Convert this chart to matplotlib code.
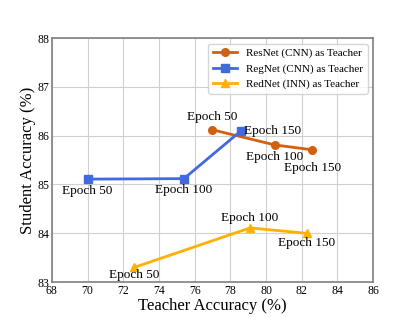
import matplotlib
matplotlib.use("Agg")
import matplotlib.pyplot as plt

plt.rcParams['font.family'] = ['Liberation Serif', 'DejaVu Serif']

# Teacher accuracy (x) vs student accuracy (y) at epochs 50 / 100 / 150
resnet_x = [77.0, 80.5, 82.6]
resnet_y = [86.12, 85.81, 85.71]
regnet_x = [70.0, 75.4, 78.6]
regnet_y = [85.11, 85.12, 86.1]
rednet_x = [72.6, 79.1, 82.3]
rednet_y = [83.3, 84.11, 84.0]
epoch_labels = ['Epoch 50', 'Epoch 100', 'Epoch 150']

c_res = '#D2600F'
c_reg = '#4169E1'
c_red = '#FFB000'

fig = plt.figure(figsize=(4.15, 3.17), dpi=100)
ax = fig.add_axes([0.125, 0.110, 0.774, 0.770])

ax.plot(resnet_x, resnet_y, color=c_res, marker='o', lw=2, ms=5.5, label='ResNet (CNN) as Teacher', zorder=3)
ax.plot(regnet_x, regnet_y, color=c_reg, marker='s', lw=2, ms=5.5, label='RegNet (CNN) as Teacher', zorder=3)
ax.plot(rednet_x, rednet_y, color=c_red, marker='^', lw=2, ms=5.5, label='RedNet (INN) as Teacher', zorder=3)

fs = 9.5
# ResNet labels
ax.annotate(epoch_labels[0], (resnet_x[0], resnet_y[0]), xytext=(0, 5), textcoords='offset points', ha='center', va='bottom', fontsize=fs)
ax.annotate(epoch_labels[1], (resnet_x[1], resnet_y[1]), xytext=(0, -4), textcoords='offset points', ha='center', va='top', fontsize=fs)
ax.annotate(epoch_labels[2], (resnet_x[2], resnet_y[2]), xytext=(0, -9), textcoords='offset points', ha='center', va='top', fontsize=fs)
# RegNet labels
ax.annotate(epoch_labels[0], (regnet_x[0], regnet_y[0]), xytext=(0, -4), textcoords='offset points', ha='center', va='top', fontsize=fs)
ax.annotate(epoch_labels[1], (regnet_x[1], regnet_y[1]), xytext=(0, -4), textcoords='offset points', ha='center', va='top', fontsize=fs)
ax.annotate(epoch_labels[2], (regnet_x[2], regnet_y[2]), xytext=(2, 0), textcoords='offset points', ha='left', va='center', fontsize=fs)
# RedNet labels
ax.annotate(epoch_labels[0], (rednet_x[0], rednet_y[0]), xytext=(0, -1), textcoords='offset points', ha='center', va='top', fontsize=fs)
ax.annotate(epoch_labels[1], (rednet_x[1], rednet_y[1]), xytext=(0, 3), textcoords='offset points', ha='center', va='bottom', fontsize=fs)
ax.annotate(epoch_labels[2], (rednet_x[2], rednet_y[2]), xytext=(0, -3), textcoords='offset points', ha='center', va='top', fontsize=fs)

ax.set_xlim(68, 86)
ax.set_ylim(83, 88)
ax.set_xticks(range(68, 87, 2))
ax.set_yticks(range(83, 89))
ax.tick_params(labelsize=8.5, length=0, pad=2)
ax.grid(True, color='#d0d0d0', lw=0.8)
ax.set_axisbelow(True)
for s in ax.spines.values():
    s.set_color('#808080')
    s.set_linewidth(1.2)

ax.set_xlabel('Teacher Accuracy (%)', fontsize=12, labelpad=1)
ax.set_ylabel('Student Accuracy (%)', fontsize=12, labelpad=1)

ax.legend(loc='upper right', fontsize=8, handlelength=2.2, borderaxespad=0.5)

fig.savefig('out.png', dpi=100)
